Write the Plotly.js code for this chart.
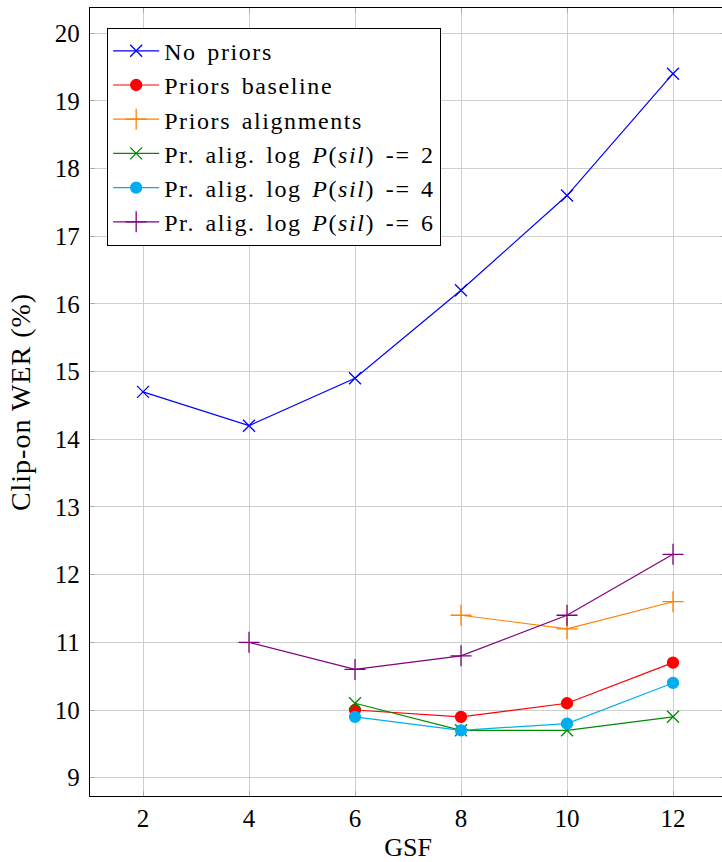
<!DOCTYPE html>
<html>
<head>
<meta charset="utf-8">
<script src="https://cdn.plot.ly/plotly-3.0.1.min.js"></script>
<style>
html,body{margin:0;padding:0;overflow:hidden;background:#fff}
.legendtext{letter-spacing:1.6px;word-spacing:3px}
.ytitle{letter-spacing:1px}
</style>
</head>
<body>
<div id="chart"></div>
<script>
const gsf = [2, 4, 6, 8, 10, 12];
const noPriors = [14.7, 14.2, 14.9, 16.2, 17.6, 19.4];
const gsfBaseline = [6, 8, 10, 12];
const priorsBaseline = [10.0, 9.9, 10.1, 10.7];
const gsfAlign = [8, 10, 12];
const priorsAlign = [11.4, 11.2, 11.6];
const gsfSil2 = [6, 8, 10, 12];
const sil2 = [10.1, 9.7, 9.7, 9.9];
const gsfSil4 = [6, 8, 10, 12];
const sil4 = [9.9, 9.7, 9.8, 10.4];
const gsfSil6 = [4, 6, 8, 10, 12];
const sil6 = [11.0, 10.6, 10.8, 11.4, 12.3];
const werTicks = [9, 10, 11, 12, 13, 14, 15, 16, 17, 18, 19, 20];
const names = [
  "No priors",
  "Priors baseline",
  "Priors alignments",
  "Pr. alig. log <i>P</i>(<i>sil</i>) -= 2",
  "Pr. alig. log <i>P</i>(<i>sil</i>) -= 4",
  "Pr. alig. log <i>P</i>(<i>sil</i>) -= 6"
];

function tr(x, y, name, color, symbol, size) {
  return {
    x: x, y: y, name: name, type: 'scatter', mode: 'lines+markers',
    line: {color: color, width: 1.2},
    marker: {color: color, symbol: symbol, size: size, line: {color: color, width: 1.3}}
  };
}

const data = [
  tr(gsf, noPriors, names[0], '#0000ff', 'x-thin', 12),
  tr(gsfBaseline, priorsBaseline, names[1], '#ff0000', 'circle', 11),
  tr(gsfAlign, priorsAlign, names[2], '#ff8000', 'cross-thin', 15),
  tr(gsfSil2, sil2, names[3], '#008a00', 'x-thin', 12),
  tr(gsfSil4, sil4, names[4], '#00aeef', 'circle', 11),
  tr(gsfSil6, sil6, names[5], '#800080', 'cross-thin', 15)
];

const fam = '"Liberation Serif", "Times New Roman", serif';
const font = {family: fam, size: 25, color: '#000'};

const layout = {
  width: 728, height: 862,
  margin: {l: 90, r: 2, t: 8, b: 66},
  paper_bgcolor: '#fff', plot_bgcolor: '#fff',
  font: font,
  showlegend: true,
  legend: {
    x: 0.027, y: 0.975, xanchor: 'left', yanchor: 'top',
    bgcolor: '#fff', bordercolor: '#000', borderwidth: 1,
    font: {family: fam, size: 24, color: '#000'},
    itemwidth: 46
  },
  xaxis: {
    range: [1, 13],
    tickvals: gsf, ticktext: gsf.map(String),
    showgrid: true, gridcolor: '#cfcfcf', gridwidth: 1,
    zeroline: false,
    showline: true, linecolor: '#000', linewidth: 1.2, mirror: 'ticks',
    ticks: 'inside', ticklen: 5, tickcolor: '#aaa',
    title: {text: 'GSF', font: {family: fam, size: 26, color: '#000'}, standoff: 10},
    tickfont: font
  },
  yaxis: {
    range: [8.73, 20.37],
    tickvals: werTicks,
    showgrid: true, gridcolor: '#cfcfcf', gridwidth: 1,
    zeroline: false,
    showline: true, linecolor: '#000', linewidth: 1.2, mirror: 'ticks',
    ticks: 'inside', ticklen: 5, tickcolor: '#aaa',
    ticklabelstandoff: 4,
    title: {text: 'Clip-on WER (%)', font: {family: fam, size: 28, color: '#000'}, standoff: 16},
    tickfont: font
  }
};

Plotly.newPlot('chart', data, layout, {staticPlot: true, displayModeBar: false});
</script>
</body>
</html>
